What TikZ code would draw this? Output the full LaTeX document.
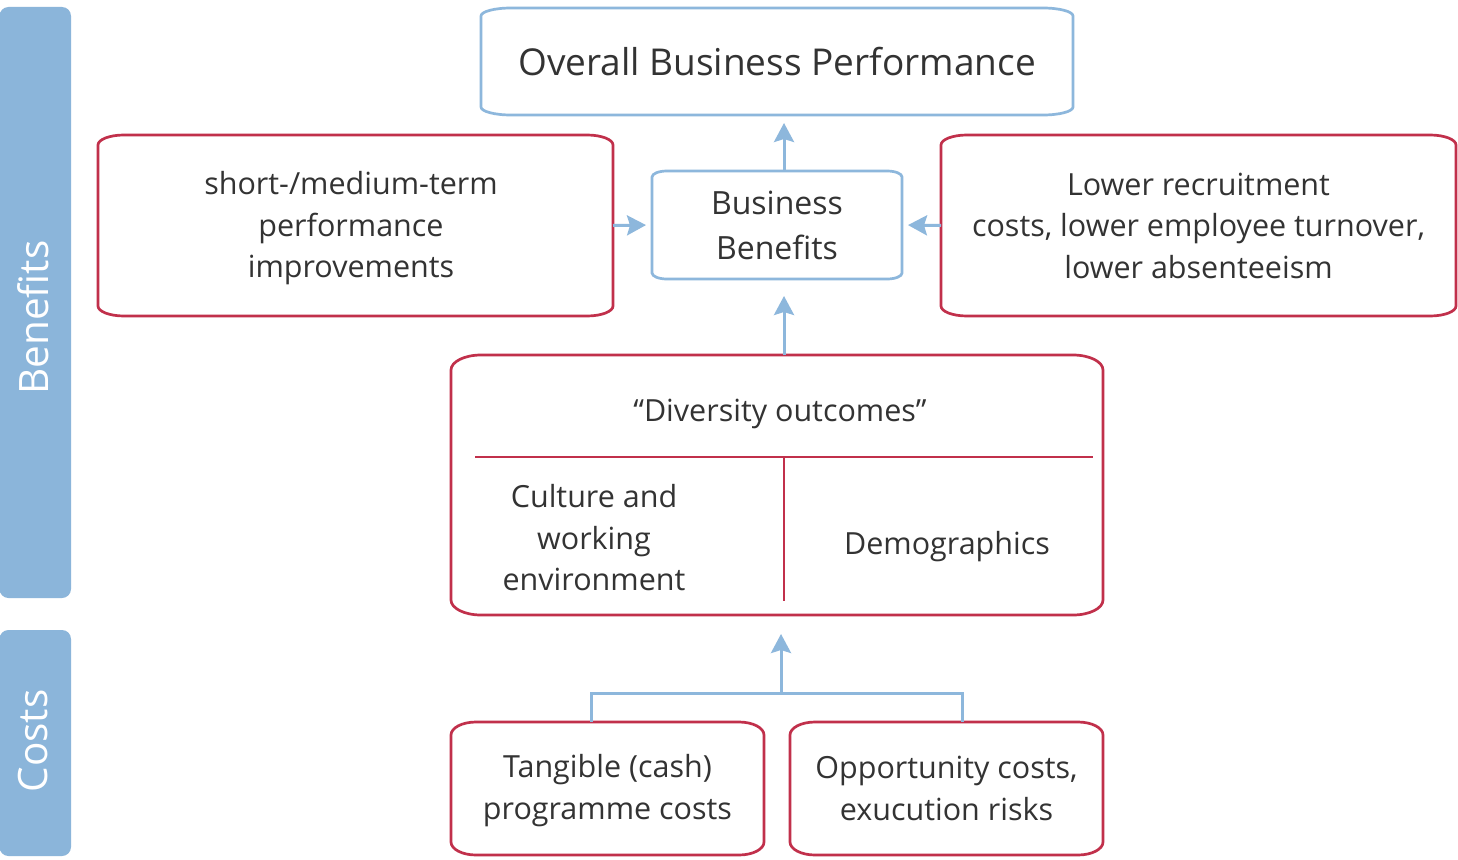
\documentclass[tikz,border=0pt]{standalone}
\usepackage{fontspec}
\setmainfont{Open Sans}
\usetikzlibrary{arrows.meta}
\definecolor{lblue}{HTML}{8DB7DC}
\definecolor{dred}{HTML}{C1304B}
\definecolor{txt}{HTML}{333333}
\definecolor{barblue}{HTML}{8BB5DA}
\newcommand\ebox[4]{%
\draw[#1, line width=2.7pt] ([xshift=#3]#2.north west) -- ([xshift=-#3]#2.north east)
 arc[start angle=90,end angle=0,x radius=#3,y radius=#4] -- ([yshift=#4]#2.south east)
 arc[start angle=0,end angle=-90,x radius=#3,y radius=#4] -- ([xshift=#3]#2.south west)
 arc[start angle=-90,end angle=-180,x radius=#3,y radius=#4] -- ([yshift=-#4]#2.north west)
 arc[start angle=180,end angle=90,x radius=#3,y radius=#4] -- cycle;}
\begin{document}
\begin{tikzpicture}[x=1pt,y=-1pt,
  box/.style={inner sep=0pt, outer sep=0pt, align=center, text=txt,
    font=\fontsize{30.5}{41.5}\selectfont},
  lbl/.style={inner sep=0pt, align=center, text=txt, font=\fontsize{30.5}{41.5}\selectfont},
  side/.style={inner sep=0pt, text=white, rotate=90, font=\fontsize{40.5}{44}\selectfont},
  bline/.style={lblue, line width=3pt},
  arr/.style={lblue, line width=3pt, -{Stealth[length=19pt,width=20pt,inset=3pt]}},
  sep/.style={dred, line width=2.7pt}]
\fill[white] (0,0) rectangle (1458,859);
\useasboundingbox (0,0) rectangle (1458,859);
% side bars
\fill[barblue, rounded corners=9pt] (-0.5,7) rectangle (71,598);
\fill[barblue, rounded corners=9pt] (-0.5,630) rectangle (71,856);
\node[side] (benefits) at (33,317.5) {Benefits};
\node[side] (costs) at (33,741) {Costs};
% boxes
\node[box, minimum width=592pt, minimum height=107pt, font=\fontsize{37}{44}\selectfont] (top) at (777,61.5) {Overall Business Performance};
\node[box, minimum width=515pt, minimum height=181pt] (left) at (355.5,225.5) {};
\node[lbl] (leftt) at (351,228.5) {short-/medium-term\\performance\\improvements};
\node[box, minimum width=250pt, minimum height=108pt, font=\fontsize{32}{45}\selectfont] (bb) at (777,225) {Business\\Benefits};
\node[box, minimum width=515pt, minimum height=181pt] (right) at (1198.5,225.5) {Lower recruitment\\costs, lower employee turnover,\\lower absenteeism};
\node[box, minimum width=652pt, minimum height=260pt] (div) at (777,485) {};
\node[lbl] (divt) at (780,414) {“Diversity outcomes”};
\node[lbl] (cult) at (594,538) {Culture and\\working\\environment};
\node[lbl] (demo) at (947,547) {Demographics};
\node[box, minimum width=313pt, minimum height=133pt] (tang) at (607.5,788.5) {};
\node[lbl] (tangt) at (607.5,790.5) {Tangible (cash)\\programme costs};
\node[box, minimum width=313pt, minimum height=133pt] (opp) at (946.5,788.5) {Opportunity costs,\\exucution risks};
% outlines
\ebox{lblue}{top}{30pt}{8pt}
\ebox{lblue}{bb}{15pt}{6pt}
\ebox{dred}{left}{26pt}{10pt}
\ebox{dred}{right}{26pt}{10pt}
\ebox{dred}{div}{30pt}{15pt}
\ebox{dred}{tang}{25pt}{13pt}
\ebox{dred}{opp}{25pt}{13pt}
% separators inside diversity box
\draw[sep] (475,457) -- (1093,457);
\draw[sep] (784,457) -- (784,601);
% connectors
\draw[arr, shorten >=8pt] ([xshift=7pt]bb.north) -- ([xshift=7pt]top.south);
\draw[arr, shorten >=6pt] (left.east) -- (bb.west);
\draw[arr, shorten >=6pt] (right.west) -- (bb.east);
\draw[arr, shorten >=17pt] ([xshift=7pt]div.north) -- ([xshift=7pt]bb.south);
\coordinate (j) at (781,693);
\draw[bline] ([xshift=-16pt]tang.north) |- (j) -| ([xshift=16pt]opp.north);
\draw[arr, shorten >=19pt] (j) -- (j |- div.south);
\end{tikzpicture}
\end{document}
